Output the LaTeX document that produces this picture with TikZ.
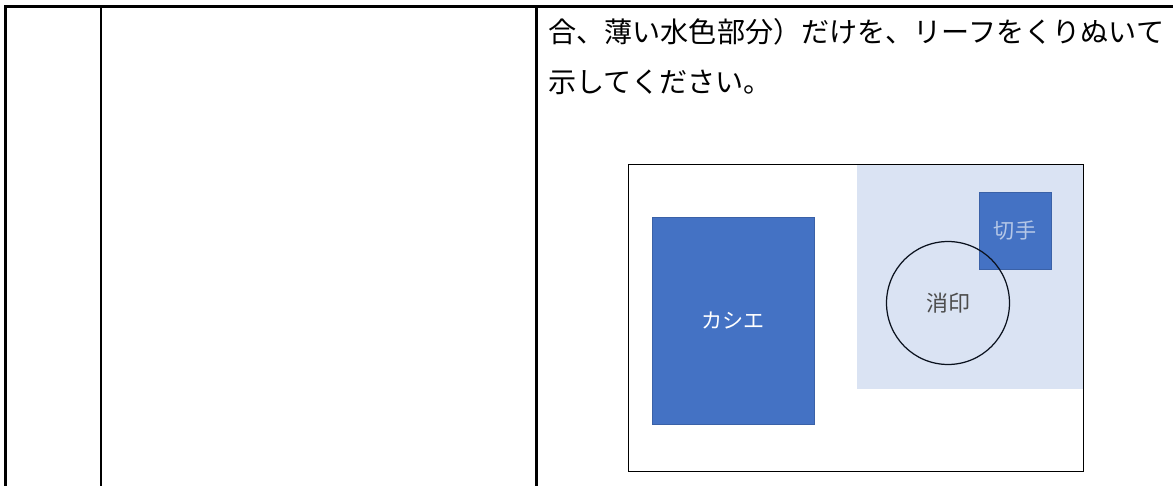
\documentclass[tikz,border=0pt]{standalone}
\usepackage{fontspec}
\setmainfont{Noto Sans CJK JP}
\usetikzlibrary{positioning}
\definecolor{officeblue}{HTML}{4472C4}
\definecolor{paleblue}{HTML}{DAE3F3}
\colorlet{stamptext}{paleblue!75!officeblue}
\colorlet{markline}{black!85!officeblue}
\colorlet{marktext}{black!70}
\tikzstyle{tableline}=[black, line width=1.2pt]
\tikzstyle{bodytext}=[anchor=west, inner sep=0pt, font=\fontsize{16}{19}\selectfont]
\tikzstyle{framebox}=[fill=white, inner sep=0pt, minimum width=9.08cm, minimum height=6.12cm]
\tikzstyle{paleregion}=[fill=paleblue, inner sep=0pt, minimum width=4.52cm, minimum height=4.48cm]
\tikzstyle{bluebox}=[fill=officeblue, draw=officeblue!85!black, line width=0.3pt, inner sep=0pt, font=\fontsize{12}{14}\selectfont]
\tikzstyle{postmark}=[circle, draw=markline, line width=0.7pt, inner sep=0pt, minimum size=2.46cm, text=marktext, font=\fontsize{12.5}{14}\selectfont]

\begin{document}
\begin{tikzpicture}[x=0.02cm, y=-0.02cm]
    \useasboundingbox (0, 0) rectangle (1173, 486);

    % table
    \draw[tableline] (5.5, 486) -- (5.5, 6.5) -- (1173, 6.5);
    \draw[tableline] (101, 6.5) -- (101, 486);
    \draw[tableline] (536.5, 6.5) -- (536.5, 486);

    \node[bodytext] at (548, 32) (lineA) {合、薄い水色部分）だけを、リーフをくりぬいて};
    \node[bodytext] at (548, 82) (lineB) {示してください。};

    % figure
    \node[framebox] at (856, 318) (frame) {};
    \node[paleregion, anchor=north east] at (frame.north east) (region) {};
    \draw[black, line width=0.6pt] (frame.north west) rectangle (frame.south east);

    \node[bluebox, text=white, minimum width=3.24cm, minimum height=4.14cm] at (733, 320.5) (cashier) {カシエ};
    \node[bluebox, text=stamptext, minimum width=1.44cm, minimum height=1.54cm] at (1015, 230.5) (stamp) {切手};
    \node[postmark] at (948, 303) (mark) {消印};
\end{tikzpicture}
\end{document}
